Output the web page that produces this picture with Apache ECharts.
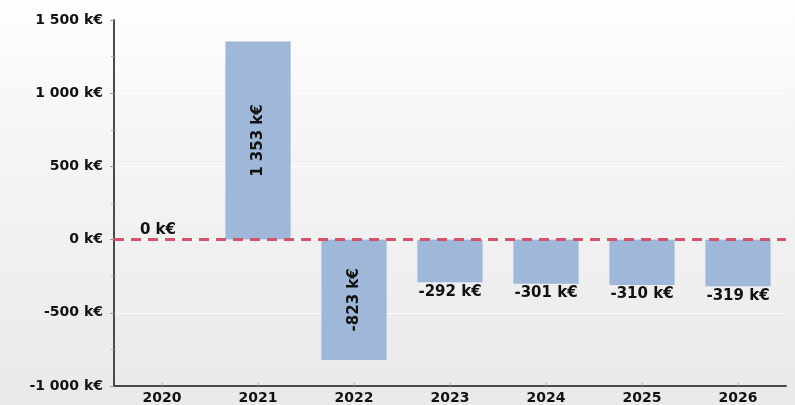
<!DOCTYPE html>
<html><head><meta charset="utf-8">
<script src="https://cdn.jsdelivr.net/npm/echarts@6/dist/echarts.min.js"></script>
<style>html,body{margin:0;padding:0;}#c{width:795px;height:405px;}</style>
</head><body><div id="c"></div>
<script>
const categories = ['2020','2021','2022','2023','2024','2025','2026'];
const values = [0, 1353, -823, -292, -301, -310, -319];
const yTicks = [-1000, -500, 0, 500, 1000, 1500];
const labelPositions = ['top','inside','inside','bottom','bottom','bottom','bottom'];
const labelRotations = [0, 90, 90, 0, 0, 0, 0];

function fmt(v){
  const s = Math.abs(v).toString().replace(/\B(?=(\d{3})+(?!\d))/g, ' ');
  return (v < 0 ? '-' : '') + s + ' k€';
}
const FONT = 'DejaVu Sans';
const chart = echarts.init(document.getElementById('c'));
chart.setOption({
  backgroundColor: {type:'linear', x:0, y:0, x2:0, y2:1, colorStops:[
    {offset:0, color:'#fefefe'}, {offset:0.3, color:'#f6f6f6'}, {offset:1, color:'#e9e9e9'}]},
  animation: false,
  grid: {left:114, right:9, top:20, bottom:18, containLabel:false},
  xAxis: {
    type:'category', data: categories,
    axisLine: {onZero:false, lineStyle:{color:'#4a4a4a', width:2}},
    axisTick: {show:true, alignWithLabel:true, length:3, inside:true, lineStyle:{color:'#aaa'}},
    axisLabel: {color:'#111', fontFamily:FONT, fontWeight:'bold', fontSize:14, margin:5},
    splitLine: {show:false}
  },
  yAxis: {
    type:'value', min:-1000, max:1500, interval:500,
    axisLine: {show:true, lineStyle:{color:'#4a4a4a', width:2}},
    axisTick: {show:true, length:4, lineStyle:{color:'#999'}},
    minorTick: {show:true, splitNumber:2, length:3, lineStyle:{color:'#d9a0a8'}},
    axisLabel: {color:'#111', fontFamily:FONT, fontWeight:'bold', fontSize:14, margin:11,
      formatter: v => yTicks.includes(v) ? fmt(v) : ''},
    splitLine: {show:true, lineStyle:{color:'rgba(255,255,255,0.85)', width:1}}
  },
  series: [{
    type:'bar', barWidth:'68%',
    data: values.map((v,i)=>({value:v, label:{position:labelPositions[i], rotate:labelRotations[i],
      offset: i===0 ? [-4,0] : [0,0]}})),
    itemStyle: {color:'#9fb8da'},
    label: {show:true, color:'#111', fontFamily:FONT, fontWeight:'bold', fontSize:15, distance:2,
      formatter: p => fmt(p.value)},
    markLine: {silent:true, symbol:'none', z:10,
      lineStyle:{color:'#d2546a', width:3, type:[10,7]},
      label:{show:false},
      data:[{yAxis:0}]}
  }]
});
</script></body></html>
